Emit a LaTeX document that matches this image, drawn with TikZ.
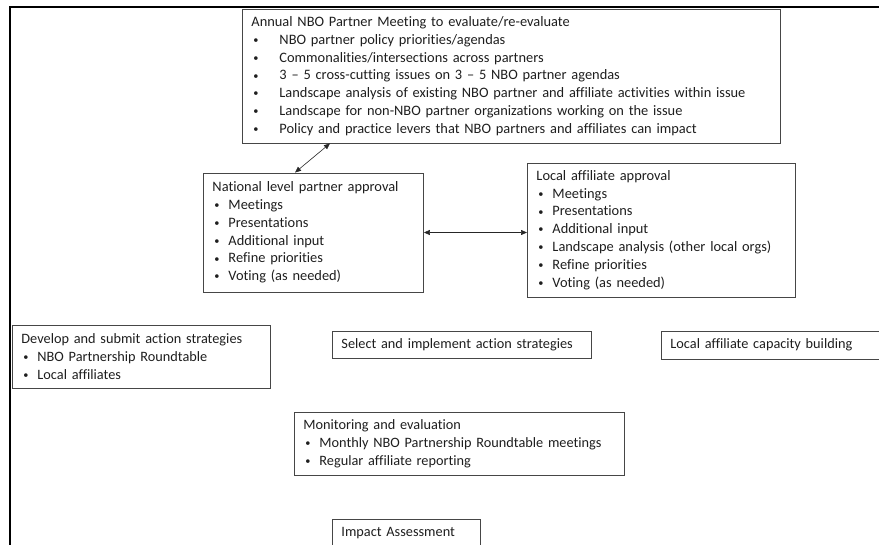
\documentclass[tikz,border=0pt]{standalone}
\usepackage{fontspec}
\setmainfont{Carlito}[Ligatures={TeX,NoCommon}]
\usetikzlibrary{arrows.meta}
\definecolor{boxLine}{RGB}{70, 70, 70}
\definecolor{inkGray}{RGB}{30, 30, 30}
% bullet lines: narrow and wide indent
\newcommand{\smallbul}{\raisebox{0.12ex}{\scalebox{0.72}{\textbullet}}}
\newcommand{\bulitem}[1]{\makebox[16pt][l]{\hspace{2pt}\smallbul}#1}
\newcommand{\widebul}[1]{\makebox[28pt][l]{\hspace{2pt}\smallbul}#1}
\tikzset{
    % Base Block Style
    stage/.style={
        rectangle,
        anchor=west,
        align=left,
        inner xsep=9pt,
        inner ysep=0pt,
        draw=boxLine,
        line width=0.9pt,
        text=inkGray,
        font=\fontsize{14.4}{17.8}\selectfont
    },
    % Lower row blocks
    stageLow/.style={stage, font=\fontsize{14.3}{18}\selectfont},
    % Arrow & Frame Styles
    biArrow/.style={{Triangle[length=6pt,width=5pt]}-{Triangle[length=6pt,width=5pt]}, draw=black!85, line width=0.6pt},
    frameLine/.style={draw=black, line width=2pt}
}

\begin{document}
\begin{tikzpicture}[x=1pt, y=-1pt]

    \useasboundingbox (0,0) rectangle (879,545);
    \clip (0,0) rectangle (879,545);

    % --- FRAME ---
    \draw [frameLine] (10,545) -- (10,7) -- (879,7);

    % --- TOP (Annual Meeting) ---
    \node (annual) [stage, text width=520pt, minimum height=134pt] at (242,76) {
        Annual NBO Partner Meeting to evaluate/re-evaluate \\
        \widebul{NBO partner policy priorities/agendas} \\
        \widebul{Commonalities/intersections across partners} \\
        \widebul{3 -- 5 cross-cutting issues on 3 -- 5 NBO partner agendas} \\
        \widebul{Landscape analysis of existing NBO partner and affiliate activities within issue} \\
        \widebul{Landscape for non-NBO partner organizations working on the issue} \\
        \widebul{Policy and practice levers that NBO partners and affiliates can impact}
    };

    % --- APPROVAL ROW ---
    \node (national) [stage, text width=202pt, minimum height=119pt] at (203,232.5) {
        National level partner approval \\
        \bulitem{Meetings} \\
        \bulitem{Presentations} \\
        \bulitem{Additional input} \\
        \bulitem{Refine priorities} \\
        \bulitem{Voting (as needed)}
    };

    \node (local) [stage, text width=250pt, minimum height=134pt] at (527,230) {
        Local affiliate approval \\
        \bulitem{Meetings} \\
        \bulitem{Presentations} \\
        \bulitem{Additional input} \\
        \bulitem{Landscape analysis (other local orgs)} \\
        \bulitem{Refine priorities} \\
        \bulitem{Voting (as needed)}
    };

    % --- ACTION ROW ---
    \node (develop) [stageLow, text width=240pt, minimum height=63pt] at (12,356.5) {
        Develop and submit action strategies \\
        \bulitem{NBO Partnership Roundtable} \\
        \bulitem{Local affiliates}
    };

    \node (select) [stageLow, text width=241pt, minimum height=27pt] at (332,344.5) {
        Select and implement action strategies
    };

    \node (capacity) [stageLow, text width=220pt, minimum height=28pt] at (661,345) {
        Local affiliate capacity building
    };

    % --- FOLLOW-UP ---
    \node (monitor) [stageLow, text width=312pt, minimum height=63pt] at (294,443.5) {
        Monitoring and evaluation \\
        \bulitem{Monthly NBO Partnership Roundtable meetings} \\
        \bulitem{Regular affiliate reporting}
    };

    \node (impact) [stageLow, text width=130pt, minimum height=28pt] at (332,533) {
        Impact Assessment
    };

    % --- Arrows ---
    \draw [biArrow] ([xshift=88pt]annual.south west) -- ([xshift=92pt]national.north west);
    \draw [biArrow] (national.east) -- (national.east -| local.west);

\end{tikzpicture}
\end{document}
